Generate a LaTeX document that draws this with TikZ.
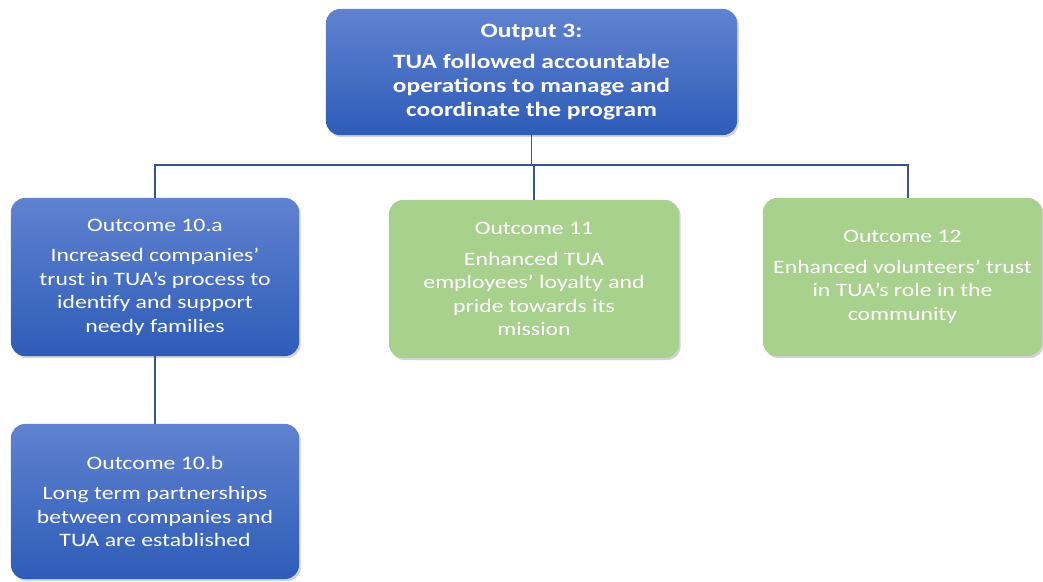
\documentclass[tikz,border=0pt]{standalone}
\usepackage{fontspec}
\setmainfont{Carlito}[FakeStretch=1.25]
\usepackage{tikz}
\usetikzlibrary{shapes, arrows.meta, positioning, shadows}
\definecolor{bluetop}{RGB}{96,130,208}
\definecolor{bluebot}{RGB}{46,92,184}
\definecolor{leaf}{RGB}{169,209,142}
\definecolor{wire}{RGB}{52,84,150}
\tikzset{
    box/.style={rectangle, rounded corners=0.35cm, align=center, text=white,
        font=\fontsize{13.5}{16.7}\selectfont,
        drop shadow={shadow xshift=1.2pt, shadow yshift=-1.5pt, opacity=0.35}},
    bluebox/.style={box, top color=bluetop, bottom color=bluebot},
    greenbox/.style={box, fill=leaf},
    link/.style={draw=wire, line width=1.1pt}
}
\newcommand{\gap}{\\[5pt]}

\begin{document}
\begin{tikzpicture}[x=0.025cm, y=-0.025cm]
    \clip (0,0) rectangle (1043,581);
    \useasboundingbox (0,0) rectangle (1043,581);

    % Output
    \node (out3) [bluebox, minimum width=10.275cm, minimum height=3.15cm,
        font=\fontsize{14.5}{17.2}\selectfont\bfseries] at (531.5,72)
        {Output 3:\gap TUA followed accountable\\ operations to manage and\\ coordinate the program};

    % Outcomes
    \node (oc10a) [bluebox, minimum width=7.2cm, minimum height=3.95cm] at (155,277)
        {Outcome 10.a\gap Increased companies’\\ trust in TUA’s process to\\ identify and support\\ needy families};
    \node (oc10b) [bluebox, minimum width=7.2cm, minimum height=3.875cm] at (155,501.5)
        {Outcome 10.b\gap Long term partnerships\\ between companies and\\ TUA are established};
    \node (oc11) [greenbox, minimum width=7.25cm, minimum height=3.95cm] at (534,279)
        {Outcome 11\gap Enhanced TUA\\ employees’ loyalty and\\ pride towards its\\ mission};
    \node (oc12) [greenbox, minimum width=6.975cm, minimum height=3.95cm] at (902.5,277)
        {Outcome 12\gap Enhanced volunteers’ trust\\ in TUA’s role in the\\ community};

    % Connectors
    \coordinate (split) at (531.5,165);
    \draw[link] (out3.south) -- (split);
    \draw[link] (split) -| (oc10a.north);
    \draw[link] (split) -| (oc11.north);
    \draw[link] (split) -| ([xshift=0.14cm]oc12.north);
    \draw[link] (oc10a.south) -- (oc10b.north);
\end{tikzpicture}
\end{document}
